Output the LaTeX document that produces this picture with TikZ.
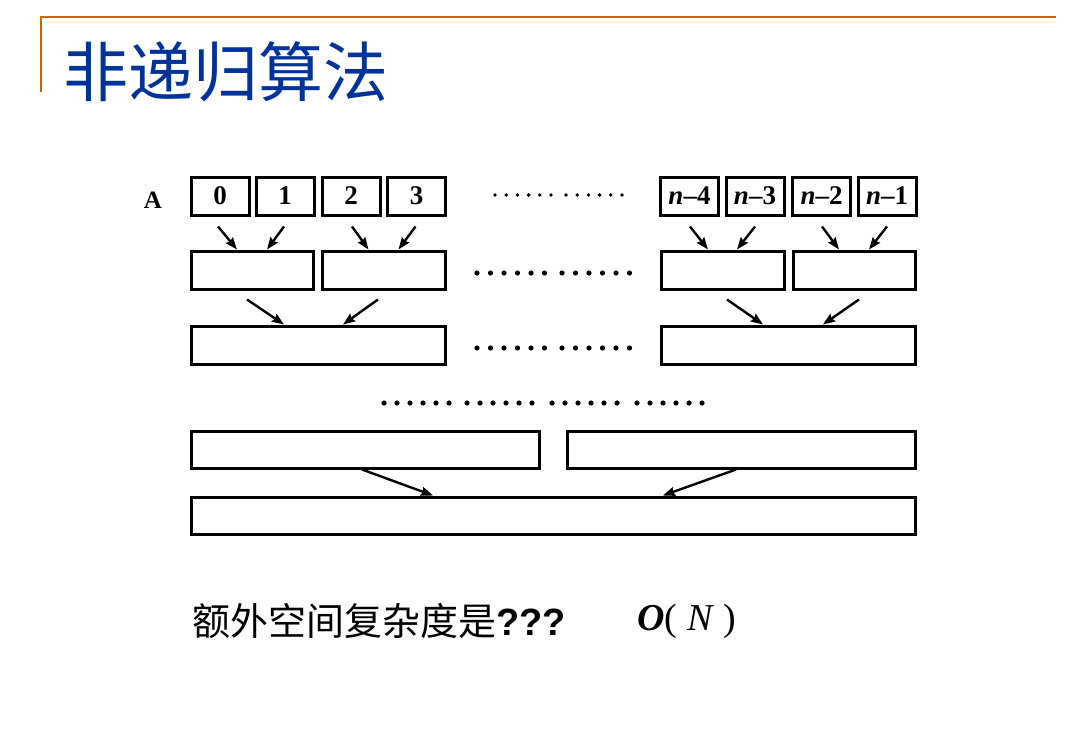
\documentclass[tikz,border=0pt]{standalone}
\usepackage{fontspec}
\usepackage{tikz}
\usetikzlibrary{arrows.meta}
\setmainfont{Liberation Serif}
\setsansfont{Liberation Sans}
\newfontfamily\cjk{Noto Sans CJK SC}
\definecolor{titleblue}{RGB}{0,51,153}
\definecolor{rulecol}{RGB}{204,102,0}
\tikzset{
    cell/.style={draw, line width=3pt, inner sep=0pt, minimum height=38pt},
    merge/.style={->, line width=2.4pt},
}

\begin{document}
\begin{tikzpicture}[x=1pt, y=-1pt, >={Stealth[length=12pt,width=9pt,inset=1.5pt]}]
    \useasboundingbox (0,0) rectangle (1090,736);
    % Righe arancioni
    \draw[rulecol, line width=2.2pt] (41,92) -- (41,17) -- (1056,17);
    \node[anchor=west, text=titleblue, font=\cjk\fontsize{65}{70}\selectfont] (title) at (60,72) {非递归算法};
    % Array A
    \node[font=\bfseries\fontsize{25}{27}\selectfont] (lab) at (153,200) {A};
    \node[cell, minimum width=58pt, font=\bfseries\fontsize{27}{29}\selectfont] (a0) at (220,196) {0};
    \node[cell, minimum width=58pt, font=\bfseries\fontsize{27}{29}\selectfont] (a1) at (285,196) {1};
    \node[cell, minimum width=58pt, font=\bfseries\fontsize{27}{29}\selectfont] (a2) at (351,196) {2};
    \node[cell, minimum width=58pt, font=\bfseries\fontsize{27}{29}\selectfont] (a3) at (416.5,196) {3};
    \node[cell, minimum width=58pt, font=\bfseries\fontsize{27}{29}\selectfont] (an4) at (689.5,196) {\textit{n}–4};
    \node[cell, minimum width=58pt, font=\bfseries\fontsize{27}{29}\selectfont] (an3) at (755,196) {\textit{n}–3};
    \node[cell, minimum width=58pt, font=\bfseries\fontsize{27}{29}\selectfont] (an2) at (821.5,196) {\textit{n}–2};
    \node[cell, minimum width=58pt, font=\bfseries\fontsize{27}{29}\selectfont] (an1) at (887,196) {\textit{n}–1};
    % Coppie
    \node[cell, minimum width=122pt] (m01) at (252,270) {};
    \node[cell, minimum width=123pt] (m23) at (383.5,270) {};
    \node[cell, minimum width=123pt] (mn43) at (722.5,270) {};
    \node[cell, minimum width=122pt] (mn21) at (854,270) {};
    % Quartetti
    \node[cell, minimum width=254pt] (q03) at (318,345) {};
    \node[cell, minimum width=254pt] (qn41) at (788,345) {};
    % Meta' e totale
    \node[cell, minimum width=348pt, minimum height=37pt] (hl) at (365,449.5) {};
    \node[cell, minimum width=348pt, minimum height=37pt] (hr) at (741,449.5) {};
    \node[cell, minimum width=724pt, minimum height=37pt] (all) at (553,515.5) {};
    % Frecce primo livello
    \draw[merge] ([xshift=-2pt, yshift=-10pt]a0.south) -- ([xshift=-15pt]m01.north);
    \draw[merge] ([xshift=-1pt, yshift=-10pt]a1.south) -- ([xshift=15pt]m01.north);
    \draw[merge] ([xshift=1pt, yshift=-10pt]a2.south) -- ([xshift=-15pt]m23.north);
    \draw[merge] ([xshift=-1pt, yshift=-10pt]a3.south) -- ([xshift=15pt]m23.north);
    \draw[merge] ([xshift=0.5pt, yshift=-10pt]an4.south) -- ([xshift=-14.5pt]mn43.north);
    \draw[merge] ([yshift=-10pt]an3.south) -- ([xshift=14.5pt]mn43.north);
    \draw[merge] ([xshift=0.5pt, yshift=-10pt]an2.south) -- ([xshift=-15pt]mn21.north);
    \draw[merge] ([yshift=-10pt]an1.south) -- ([xshift=15pt]mn21.north);
    % Frecce secondo livello
    \draw[merge] ([xshift=-5pt, yshift=-9pt]m01.south) -- ([xshift=-34pt]q03.north);
    \draw[merge] ([xshift=-5.5pt, yshift=-9pt]m23.south) -- ([xshift=25pt]q03.north);
    \draw[merge] ([xshift=4.5pt, yshift=-9pt]mn43.south) -- ([xshift=-25pt]qn41.north);
    \draw[merge] ([xshift=5pt, yshift=-9pt]mn21.south) -- ([xshift=35pt]qn41.north);
    % Frecce ultimo livello
    \draw[merge] ([xshift=-3pt]hl.south) -- ([xshift=-120pt]all.north);
    \draw[merge] ([xshift=-5pt]hr.south) -- ([xshift=110pt]all.north);
    % Puntini
    \foreach \s/\y/\d/\r in {495/195/11.2/1.9, 566/195/11.2/1.9,
                             477/273/13.5/2.6, 562/273/13.5/2.6,
                             477/348/13.5/2.6, 562/348/13.5/2.6,
                             384/403/13/2.6, 467/403/13/2.6, 552/403/13/2.6, 637/403/13/2.6}
        \foreach \i in {0,...,5}
            \fill ({\s+\d*\i},\y) circle (\r pt);
    % Domanda
    \node[anchor=west, font=\fontsize{38}{40}\selectfont] (ask) at (189,621) {{\cjk 额外空间复杂度是}{\sffamily\bfseries ???}};
    \node[anchor=west, font=\fontsize{38}{40}\selectfont] (ans) at (634,621) {\textbf{\textit{O}}( \textit{N} )};
\end{tikzpicture}
\end{document}
